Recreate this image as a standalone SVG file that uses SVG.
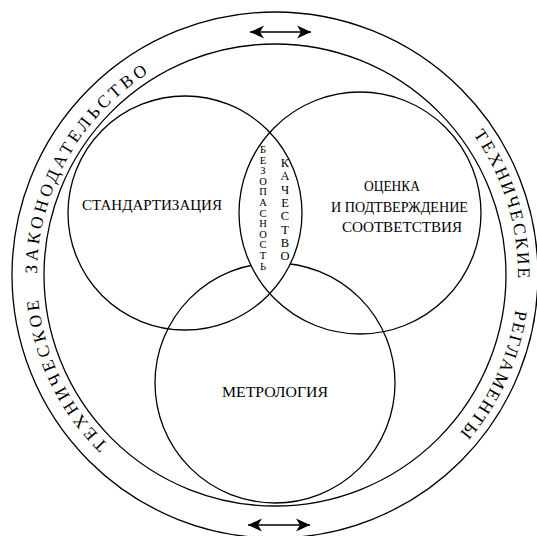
<svg xmlns="http://www.w3.org/2000/svg" width="537" height="536" viewBox="0 0 537 536">
<style>
.c{fill:none;stroke:#000;stroke-width:1.3}
.t{font-family:"Liberation Serif","DejaVu Serif",serif;fill:#000}
.lbl{font-size:15px;text-anchor:middle}
.ring{font-size:17.5px}
.ar{stroke:#000;stroke-width:1.3;fill:none}
</style>
<defs>
<marker id="ah" markerUnits="userSpaceOnUse" markerWidth="14" markerHeight="14" viewBox="0 -7 14 14" refX="14" refY="0" orient="auto-start-reverse">
<path d="M14,0 L0,-6.5 L4,0 L0,6.5 Z" fill="#000"/>
</marker>
<path id="ringL" d="M275,513 A238,238 0 1,1 275,37 A238,238 0 1,1 275,513"/>
<path id="ringR" d="M275,518 A243,243 0 1,1 275,32 A243,243 0 1,1 275,518"/>
</defs>
<rect width="537" height="536" fill="#fff"/>
<g id="frame">
<circle class="c" cx="275" cy="275" r="263"/>
<circle class="c" cx="275" cy="275" r="231"/>
</g>
<g id="metrology">
<circle class="c" cx="275" cy="383" r="120"/>
<text class="t lbl" x="275" y="397" textLength="106" lengthAdjust="spacingAndGlyphs">МЕТРОЛОГИЯ</text>
</g>
<path id="lens" d="M269.8,132.4 A117,117 0 0,1 269.8,293.6 A121,121 0 0,1 269.8,132.4 Z" fill="#fff" stroke="none"/>
<g id="standartization">
<circle class="c" cx="185" cy="213" r="117"/>
<text class="t lbl" x="152" y="210" textLength="140" lengthAdjust="spacingAndGlyphs">СТАНДАРТИЗАЦИЯ</text>
</g>
<g id="conformity">
<circle class="c" cx="360" cy="213" r="121"/>
<text class="t lbl" x="392" y="191" textLength="56" lengthAdjust="spacingAndGlyphs">ОЦЕНКА</text>
<text class="t lbl" x="399.5" y="212" textLength="137" lengthAdjust="spacingAndGlyphs">И ПОДТВЕРЖДЕНИЕ</text>
<text class="t lbl" x="402" y="232" textLength="120" lengthAdjust="spacingAndGlyphs">СООТВЕТСТВИЯ</text>
</g>
<g id="safety">
<text class="t" font-size="10.5" text-anchor="middle">
<tspan x="263" y="153">Б</tspan><tspan x="263" y="163.6">Е</tspan><tspan x="263" y="174.2">З</tspan><tspan x="263" y="184.8">О</tspan><tspan x="263" y="195.4">П</tspan><tspan x="263" y="206">А</tspan><tspan x="263" y="216.6">С</tspan><tspan x="263" y="227.2">Н</tspan><tspan x="263" y="237.8">О</tspan><tspan x="263" y="248.4">С</tspan><tspan x="263" y="259">Т</tspan><tspan x="263" y="269.6">Ь</tspan>
</text>
</g>
<g id="quality">
<text class="t" font-size="12.5" text-anchor="middle">
<tspan x="285" y="167">К</tspan><tspan x="285" y="180.3">А</tspan><tspan x="285" y="193.6">Ч</tspan><tspan x="285" y="206.9">Е</tspan><tspan x="285" y="220.2">С</tspan><tspan x="285" y="233.5">Т</tspan><tspan x="285" y="246.8">В</tspan><tspan x="285" y="260">О</tspan>
</text>
</g>
<g id="law">
<text class="t ring"><textPath href="#ringL" startOffset="185" textLength="164" lengthAdjust="spacing">ТЕХНИЧЕСКОЕ</textPath></text>
<text class="t ring"><textPath href="#ringL" startOffset="375" textLength="239" lengthAdjust="spacing">ЗАКОНОДАТЕЛЬСТВО</textPath></text>
</g>
<g id="regulations">
<text class="t ring"><textPath href="#ringR" startOffset="995" textLength="153" lengthAdjust="spacing">ТЕХНИЧЕСКИЕ</textPath></text>
<text class="t ring"><textPath href="#ringR" startOffset="1180" textLength="137" lengthAdjust="spacing">РЕГЛАМЕНТЫ</textPath></text>
</g>
<g id="connectors">
<line class="ar" x1="250" y1="32" x2="311" y2="32" marker-start="url(#ah)" marker-end="url(#ah)"/>
<line class="ar" x1="248" y1="525" x2="310" y2="525" marker-start="url(#ah)" marker-end="url(#ah)"/>
</g>
</svg>
